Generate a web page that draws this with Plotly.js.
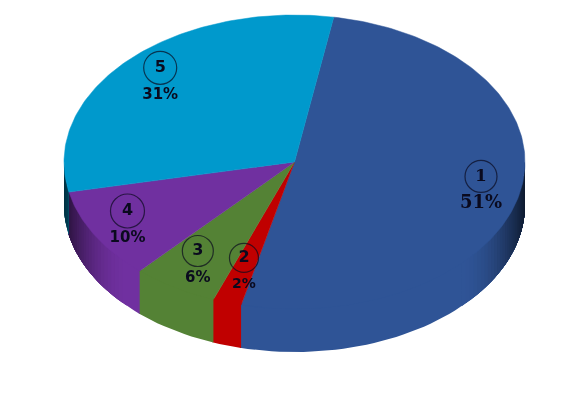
<!DOCTYPE html>
<html>
<head>
<meta charset="utf-8">
<script src="https://cdn.plot.ly/plotly-3.0.1.min.js"></script>
<style>html,body{margin:0;padding:0;background:#fff}#chart{width:583px;height:416px;filter:blur(0.45px)}</style>
</head>
<body>
<div id="chart"></div>
<script>
// Data
var categories = ['1', '2', '3', '4', '5'];
var shares = [51, 2, 6, 10, 31];
var percentLabels = ['51%', '2%', '6%', '10%', '31%'];

// Styles
var sliceColors = [[47, 84, 150], [192, 0, 0], [84, 130, 53], [112, 48, 160], [0, 153, 204]];
var labelRadius = [0.826, 0.75, 0.805, 0.835, 0.81];
var labelNudge = [3.5, 4, 1.5, 1.5, 2];
var circleSizes = [32, 29, 31, 34, 33];
var labelFonts = ['DejaVu Serif', 'DejaVu Sans', 'DejaVu Sans', 'DejaVu Sans', 'DejaVu Sans'];
var percentSizes = [18, 14, 15, 15, 15];
var numberSizes = [17, 16, 16, 16, 16];
var inkColor = '#0a0a1e';

// Projection of the tilted disc
var W = 583, H = 416;
var CX = 294.5, CY = 162, RX = 230.5, RY = 147, DEPTH = 43;
var startAngle = 9.8;

function rad(d) { return d * Math.PI / 180; }
function px(d, r) { return r * Math.sin(rad(d)); }
function py(d, r) { return r * Math.cos(rad(d)); }
function rgb(c, k) {
  return 'rgb(' + c.map(function (v) { return Math.round(v * k); }).join(',') + ')';
}
function shade(d) {
  var s = Math.abs(Math.sin(rad(d)));
  if (s < 0.72) return 1;
  var t = (s - 0.72) / 0.28;
  return 1 - 0.68 * t * t;
}

var traces = [];
var depthU = DEPTH / RY;
var edges = [startAngle];
shares.forEach(function (v, i) { edges.push(edges[i] + v * 3.6); });

// One band of the rim. Its upper edge is lifted a little into the top face, which
// is painted later and hides it, so no pale line shows where wall and face meet.
function rimBand(b0, b1, col) {
  var xs = [], ys = [], n = Math.max(2, Math.ceil((b1 - b0) / 2)), k, d;
  for (k = 0; k <= n; k++) {
    d = b0 + (b1 - b0) * k / n;
    xs.push(px(d, 1)); ys.push(py(d, 1) * 0.985);
  }
  for (k = n; k >= 0; k--) {
    d = b0 + (b1 - b0) * k / n;
    xs.push(px(d, 1)); ys.push(py(d, 1) - depthU);
  }
  xs.push(xs[0]); ys.push(ys[0]);
  traces.push({
    type: 'scatter', mode: 'lines', fill: 'toself', fillcolor: col,
    line: { color: col, width: 0 }, hoverinfo: 'skip', showlegend: false, x: xs, y: ys
  });
}

// Side wall, lower half of the rim only. Each band overlaps everything up to
// the slice end (or start), so that no seams show between neighbouring bands.
var step = 1.5;
shares.forEach(function (v, i) {
  var a0 = Math.max(edges[i], 90), a1 = Math.min(edges[i + 1], 270);
  if (a1 <= a0) return;
  rimBand(a0, Math.min(a1 + 0.3, 270), rgb(sliceColors[i], 1));
  var right = [], left = [], d;
  for (d = a0; d < a1; d += step) {
    if (d < 180) right.push(d); else left.push(d);
  }
  right.reverse().forEach(function (b) {
    var k = shade(b + step / 2);
    if (k < 1) rimBand(a0, Math.min(b + step, a1), rgb(sliceColors[i], k));
  });
  left.forEach(function (b) {
    var k = shade(b + step / 2);
    if (k < 1) rimBand(b, a1, rgb(sliceColors[i], k));
  });
});

// Top face
shares.forEach(function (v, i) {
  var xs = [0], ys = [0], n = Math.ceil(v * 3.6);
  for (var k = 0; k <= n; k++) {
    var d = edges[i] + (edges[i + 1] - edges[i]) * k / n;
    xs.push(px(d, 1)); ys.push(py(d, 1));
  }
  xs.push(0); ys.push(0);
  var col = rgb(sliceColors[i], 1);
  traces.push({
    type: 'scatter', mode: 'lines', fill: 'toself', fillcolor: col, name: categories[i],
    line: { color: col, width: 0.5 }, hoverinfo: 'skip', showlegend: false, x: xs, y: ys
  });
});

// Labels placed along each slice's middle angle
var mids = shares.map(function (v, i) { return (edges[i] + edges[i + 1]) / 2; });
var lx = mids.map(function (d, i) { return px(d, labelRadius[i]); });
var ly = mids.map(function (d, i) { return py(d, labelRadius[i]) - labelNudge[i] / RY; });
var gap = 13.5 / RY;

traces.push({
  type: 'scatter', mode: 'markers+text', x: lx, y: ly.map(function (y) { return y + gap; }),
  text: categories, textposition: 'middle center', hoverinfo: 'skip', showlegend: false,
  textfont: { family: labelFonts, size: numberSizes, color: inkColor, weight: 'bold' },
  marker: { symbol: 'circle-open', size: circleSizes, color: inkColor, line: { width: 1.2, color: inkColor } }
});
traces.push({
  type: 'scatter', mode: 'text', x: lx, y: ly.map(function (y) { return y - gap; }),
  text: percentLabels, textposition: 'middle center', hoverinfo: 'skip', showlegend: false,
  textfont: { family: labelFonts, size: percentSizes, color: inkColor, weight: 'bold' }
});

var layout = {
  width: W, height: H, margin: { l: 0, r: 0, t: 0, b: 0 },
  paper_bgcolor: '#ffffff', plot_bgcolor: '#ffffff', showlegend: false,
  xaxis: { visible: false, range: [-CX / RX, (W - CX) / RX], fixedrange: true },
  yaxis: { visible: false, range: [(CY - H) / RY, CY / RY], fixedrange: true }
};
Plotly.newPlot('chart', traces, layout, { displayModeBar: false, staticPlot: true });
</script>
</body>
</html>
